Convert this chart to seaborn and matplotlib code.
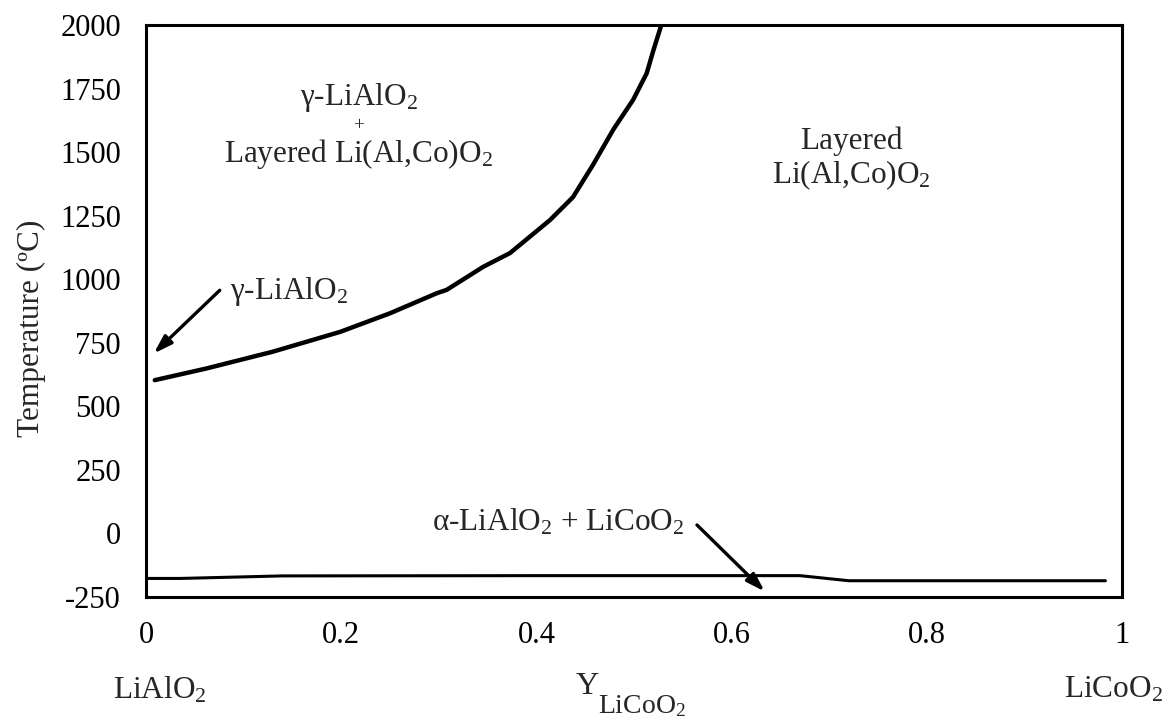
import matplotlib
matplotlib.use("Agg")
import matplotlib.pyplot as plt
import seaborn as sns
import pandas as pd

# Phase boundary: gamma-LiAlO2 + layered / layered
boundary_x = [0.009, 0.062, 0.130, 0.199, 0.250, 0.298, 0.308, 0.3456, 0.373, 0.414,
              0.4375, 0.458, 0.479, 0.499, 0.513, 0.520, 0.528]
boundary_T = [603, 649, 715, 793, 866, 945, 958, 1049, 1103, 1233,
              1323, 1450, 1590, 1705, 1810, 1902, 2000]

# Low-temperature line (alpha-LiAlO2 + LiCoO2)
low_x = [0.0015, 0.035, 0.14, 0.40, 0.67, 0.72, 0.983]
low_T = [-177, -177, -167, -166, -166, -186, -186]

x_ticks = [0, 0.2, 0.4, 0.6, 0.8, 1]
x_tick_labels = ["0", "0.2", "0.4", "0.6", "0.8", "1"]
y_ticks = [-250, 0, 250, 500, 750, 1000, 1250, 1500, 1750, 2000]
y_tick_labels = ["-250", "0", "250", "500", "750", "1000", "1250", "1500", "1750", "2000"]

sns.set_style("white")
plt.rcParams["font.family"] = ["Liberation Serif", "DejaVu Serif"]
plt.rcParams["mathtext.fontset"] = "custom"
plt.rcParams["mathtext.rm"] = "Liberation Serif"
plt.rcParams["mathtext.it"] = "Liberation Serif"
plt.rcParams["mathtext.bf"] = "Liberation Serif:bold"

fig = plt.figure(figsize=(11.74, 7.22), dpi=100)
ax = fig.add_axes([146/1174, 1 - 597/722, (1122-146)/1174, (597-25)/722])

df_b = pd.DataFrame({"x": boundary_x, "T": boundary_T})
df_l = pd.DataFrame({"x": low_x, "T": low_T})
sns.lineplot(data=df_b, x="x", y="T", ax=ax, color="black", linewidth=3.2, sort=False, estimator=None)
sns.lineplot(data=df_l, x="x", y="T", ax=ax, color="black", linewidth=2.2, sort=False, estimator=None)

ax.set_xlim(0, 1)
ax.set_ylim(-250, 2000)
ax.set_xticks(x_ticks)
ax.set_xticklabels(x_tick_labels)
ax.set_yticks(y_ticks)
ax.set_yticklabels(y_tick_labels)
ax.tick_params(axis="both", length=0, labelsize=22, colors="black")
ax.tick_params(axis="x", pad=17)
ax.tick_params(axis="y", pad=18)
ax.set_xlabel("")
ax.set_ylabel("Temperature (ºC)", fontsize=22.5)
ax.yaxis.set_label_coords(-0.102, 0.47)
for s in ax.spines.values():
    s.set_visible(True)
    s.set_color("black")
    s.set_linewidth(2.2)

fs = 22.5
ax.text(0.218, 1715, r"γ-LiAlO$_\mathregular{2}$", ha="center", va="center", fontsize=fs)
ax.text(0.218, 1603, "+", ha="center", va="center", fontsize=14)
ax.text(0.218, 1492, r"Layered Li(Al,Co)O$_\mathregular{2}$", ha="center", va="center", fontsize=fs)
ax.text(0.723, 1541, "Layered", ha="center", va="center", fontsize=fs)
ax.text(0.723, 1410, r"Li(Al,Co)O$_\mathregular{2}$", ha="center", va="center", fontsize=fs)

arrow_style = dict(arrowstyle="-|>,head_length=1.1,head_width=0.35", color="black", lw=2.4)
ax.annotate("", xy=(0.0058, 700), xytext=(0.0776, 964), arrowprops=arrow_style)
ax.text(0.086, 950, r"γ-LiAlO$_\mathregular{2}$", ha="left", va="center", fontsize=fs)

ax.annotate("", xy=(0.636, -236), xytext=(0.5625, 41), arrowprops=arrow_style)
ax.text(0.552, 45, r"α-LiAlO$_\mathregular{2}$ + LiCoO$_\mathregular{2}$", ha="right", va="center", fontsize=fs)

fig.text(160/1174, 1 - 690/722, r"LiAlO$_\mathregular{2}$", ha="center", va="center", fontsize=fs)
fig.text(1113/1174, 1 - 690/722, r"LiCoO$_\mathregular{2}$", ha="center", va="center", fontsize=fs)
fig.text(599/1174, 1 - 686/722, "Y", ha="right", va="center", fontsize=23)
fig.text(598/1174, 1 - 706/722, r"LiCoO$_\mathregular{2}$", ha="left", va="center", fontsize=20)

fig.savefig("out.png", dpi=100, facecolor="white")
